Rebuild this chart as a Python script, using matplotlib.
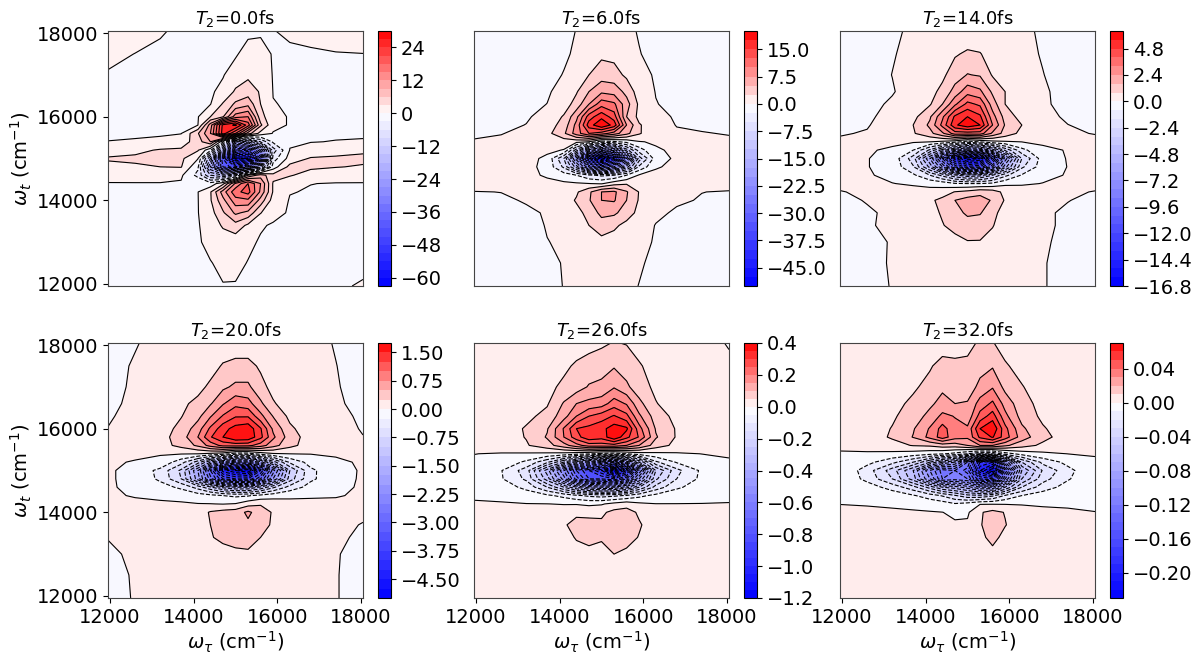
import matplotlib
matplotlib.use("Agg")
import matplotlib.pyplot as plt
import numpy as np
from matplotlib.colors import TwoSlopeNorm

# grid (cm^-1), denser around the centre
w_tau = [11950, 12600, 13200, 13700, 14100, 14400, 14700, 15000, 15300, 15600, 15900, 16300, 16800, 17400, 18050]
w_t = [18050, 17500, 17000, 16600, 16300, 16000, 15800, 15600, 15400, 15200, 15000,
       14800, 14600, 14400, 14200, 14000, 13700, 13400, 13000, 12500, 11950]

times = [0.0, 6.0, 14.0, 20.0, 26.0, 32.0]
steps = [3, 2.5, 0.8, 0.25, 0.05, 0.01]
level_low = [-21, -20, -21, -20, -24, -23]
level_high = [10, 8, 8, 7, 8, 7]
cbar_ticks = [
    [-60, -48, -36, -24, -12, 0, 12, 24],
    [-45, -37.5, -30, -22.5, -15, -7.5, 0, 7.5, 15],
    [-16.8, -14.4, -12, -9.6, -7.2, -4.8, -2.4, 0, 2.4, 4.8],
    [-4.5, -3.75, -3, -2.25, -1.5, -0.75, 0, 0.75, 1.5],
    [-1.2, -1.0, -0.8, -0.6, -0.4, -0.2, 0, 0.2, 0.4],
    [-0.2, -0.16, -0.12, -0.08, -0.04, 0, 0.04],
]
cbar_fmt = ["%.0f", "%.1f", "%.1f", "%.2f", "%.1f", "%.2f"]

# spectra in units of one contour step
z0 = [
    [.35, .25, .05, -.1, -.15, -.2, -.2, -.2, -.2, -.2, -.02, .1, .2, .3, .4],
    [.15, -.01, -.1, -.15, -.2, -.2, -.2, -.1, .35, .5, -.1, -.1, -.08, -.03, -.01],
    [-.05, -.15, -.2, -.2, -.2, -.15, -.05, .4, .8, .6, -.05, -.1, -.1, -.1, -.1],
    [-.1, -.2, -.2, -.2, -.2, -.1, .2, 1.15, 1.5, .9, -.02, -.1, -.1, -.1, -.1],
    [-.1, -.15, -.2, -.2, -.1, -.03, 1.1, 2.2, 2.7, 1, .02, -.05, -.1, -.1, -.1],
    [-.1, -.15, -.15, -.15, -.05, 1, 1.9, 4.5, 5, 1.4, .2, -.05, -.1, -.1, -.1],
    [-.1, -.1, -.1, -.08, -.02, 3.5, 8.3, 9.2, 6.5, 2.2, .2, -.05, -.1, -.1, -.1],
    [-.08, -.08, -.08, -.03, 1.9, 4, 8.5, 6, 2.5, .6, -.05, -.08, -.08, -.08, -.08],
    [.01, .05, .15, .5, 1.5, 3, -.8, -7, -6, -3, -.8, -.1, -.02, .02, .05],
    [.55, .75, 1.1, 1.15, 1.1, -.8, -6, -13, -14, -9, -2.5, .03, .25, .5, .8],
    [1.1, 1.2, 1.3, 1.2, .05, -5, -14, -20.5, -20, -13, -1.5, .4, 1.1, 1.2, 1.25],
    [.75, .85, 1, 1.05, -.8, -7, -13, -15, -12, -5.5, -.5, 1.3, 1.2, 1.05, .9],
    [.35, .4, .4, .15, -1.3, -4, -5, -3.5, 1, 2.5, 1.3, 1.1, .55, .3, .25],
    [-.05, -.05, -.05, -.1, -.15, -.6, .7, 4.2, 6, 4, .9, .25, .01, -.03, -.03],
    [-.1, -.1, -.1, -.1, -.02, .9, 3.5, 5.7, 6.4, 3.8, .9, .03, -.05, -.05, -.05],
    [-.1, -.1, -.1, -.1, -.03, .9, 2.7, 4.6, 4.8, 2.6, .55, -.05, -.08, -.08, -.08],
    [-.1, -.1, -.1, -.1, -.03, .6, 1.85, 3.2, 2.7, 1.05, .15, -.05, -.1, -.1, -.1],
    [-.1, -.1, -.1, -.1, -.05, .3, 1.15, 1.6, .8, .05, -.05, -.1, -.1, -.1, -.1],
    [-.1, -.1, -.1, -.1, -.05, .12, .35, .4, .1, -.05, -.1, -.1, -.1, -.1, -.1],
    [-.1, -.1, -.1, -.1, -.08, -.02, .1, .12, -.02, -.08, -.1, -.1, -.1, -.1, -.05],
    [-.1, -.1, -.1, -.1, -.1, -.08, -.02, -.03, -.05, -.1, -.1, -.1, -.1, -.03, .02],
]
z1 = [
    [-.6, -.6, -.5, -.4, -.2, .02, .2, .3, .3, .15, -.05, -.2, -.4, -.5, -.6],
    [-.6, -.6, -.5, -.3, -.1, .1, .5, .8, .7, .3, .03, -.2, -.4, -.5, -.6],
    [-.6, -.6, -.4, -.2, .03, .4, 1, 1.5, 1.4, .8, .15, -.05, -.3, -.5, -.6],
    [-.6, -.5, -.3, -.1, .3, .9, 2, 2.8, 2.6, 1.7, .5, -.03, -.3, -.4, -.5],
    [-.5, -.4, -.2, .01, .5, 1.4, 3, 4.6, 4.2, 2.4, .8, .03, -.2, -.3, -.4],
    [-.4, -.3, -.1, .3, 1.1, 2.7, 5.5, 6.7, 5.5, 2, .7, .25, -.1, -.2, -.3],
    [-.3, -.2, .02, .5, 1.4, 3.3, 6.5, 7.9, 6.6, 3, 1.1, .35, -.03, -.1, -.2],
    [-.1, -.03, .2, .7, 1.8, 3.5, 5, 4.5, 3.5, 2.3, 1.1, .3, .1, .03, -.03],
    [.05, .15, .25, .4, .5, .3, -.02, -1.5, -1.2, -.7, -.05, .1, .2, .15, .1],
    [.3, .4, .4, .2, -.05, -3.5, -7.5, -9.5, -8.5, -4.5, -1.5, -.1, .15, .2, .2],
    [.4, .4, .3, -.2, -3, -8.5, -16, -20, -17, -10, -3.5, -.5, .2, .3, .3],
    [.4, .4, .3, -.3, -2.2, -5.5, -10, -12, -10, -5.5, -1.8, -.08, .2, .3, .3],
    [.4, .4, .3, -.15, -.5, -1, -1.8, -2.2, -2, -1, .1, .2, .3, .3, .3],
    [.4, .4, .4, .3, .15, .1, .02, -.1, .6, .9, .6, .3, .3, .3, .3],
    [-.03, .01, .15, .3, .5, .85, 1.8, 3, 3.2, 2.1, .95, .4, .15, .01, -.05],
    [-.2, -.1, .05, .2, .5, 1.1, 1.9, 3, 3.1, 2, .9, .3, .1, -.05, -.2],
    [-.4, -.3, -.1, .05, .3, .7, 1.3, 2.3, 2.2, 1.5, .7, .15, -.1, -.3, -.4],
    [-.5, -.4, -.3, .05, .25, .5, 1, 1.5, 1.2, .7, .35, -.03, -.3, -.4, -.5],
    [-.5, -.5, -.3, -.02, .1, .25, .5, .7, .55, .35, .15, -.05, -.3, -.4, -.5],
    [-.5, -.5, -.4, -.2, .05, .15, .25, .3, .3, .2, .05, -.1, -.3, -.4, -.5],
    [-.5, -.5, -.4, -.2, .02, .1, .15, .2, .2, .1, -.01, -.1, -.3, -.4, -.5],
]
z2 = [
    [-.5, -.4, -.1, .1, .2, .3, .3, .35, .35, .3, .25, .15, -.1, -.3, -.5],
    [-.5, -.4, -.05, .2, .35, .55, .9, 1.15, 1.05, .6, .45, .2, -.05, -.3, -.5],
    [-.4, -.3, .01, .25, .5, .8, 1.5, 2.05, 1.9, .9, .5, .2, .02, -.3, -.4],
    [-.4, -.3, -.05, .3, .7, 1.25, 2.4, 3.6, 3.2, 1.8, 1, .3, .1, -.25, -.35],
    [-.3, -.2, .1, .4, .9, 2, 3.8, 5.3, 4.8, 2.5, 1, .35, .1, -.2, -.3],
    [-.25, -.15, .3, .7, 1.85, 3.8, 6.2, 7, 6.2, 3.4, 1.6, .6, .2, -.1, -.2],
    [-.2, -.05, .35, 1, 2.2, 4.3, 6.8, 7.7, 7, 4, 1.9, 1, .3, .01, -.15],
    [-.05, .05, .4, .9, 1.7, 2.8, 4.5, 4.5, 4.5, 2.8, 1.6, .7, .3, .1, -.03],
    [.1, .2, .2, .1, .02, -.2, -.6, -1.5, -.9, -.3, -.1, .02, .15, .2, .2],
    [.2, .1, -.15, -1, -3.2, -5.4, -7.8, -9.2, -8.8, -6.6, -3.8, -1.3, -.2, .05, .2],
    [.2, .03, -.3, -2.5, -7, -12, -17.6, -20.8, -20, -15, -8.6, -3, -.5, .05, .2],
    [.2, .03, -.3, -1.9, -5.3, -9, -13.2, -15.7, -15, -11, -6.4, -2.2, -.45, .02, .2],
    [.2, .08, -.2, -.8, -2, -3.3, -4.8, -5.7, -5.4, -4, -2.3, -.9, -.2, .05, .2],
    [.15, .15, .02, -.1, -.25, -.4, -.9, -1, -1, -.8, -.2, -.1, .02, .1, .2],
    [-.03, .1, .25, .3, .3, .45, 1.05, 1.3, 1.7, 1.5, .7, .4, .3, .1, -.03],
    [-.2, .05, .25, .4, .8, 1.3, 2, 2.4, 2.4, 1.9, .9, .4, .2, .02, -.15],
    [-.35, -.1, .15, .3, .7, 1.1, 1.6, 2.2, 2.1, 1.2, .7, .3, .1, -.1, -.3],
    [-.4, -.05, .1, .25, .55, .95, 1.3, 1.5, 1.4, 1.05, .55, .25, .1, -.1, -.3],
    [-.4, -.2, .05, .15, .3, .45, .7, .95, .95, .7, .4, .2, .05, -.1, -.3],
    [-.4, -.1, .03, .1, .2, .3, .35, .4, .4, .3, .2, .1, .03, -.15, -.3],
    [-.4, -.2, .03, .1, .15, .2, .25, .25, .25, .2, .15, .1, .02, -.1, -.3],
]
z3 = [
    [-.1, -.02, .1, .2, .25, .3, .35, .4, .4, .35, .3, .25, .15, -.03, -.2],
    [-.1, .03, .15, .25, .35, .6, 1.1, 1.3, 1.3, .85, .5, .3, .15, .01, -.2],
    [-.1, .05, .2, .35, .7, 1.2, 1.8, 2.2, 2.2, 1.3, .7, .35, .15, .03, -.15],
    [-.1, .1, .3, .8, 1.25, 1.9, 2.9, 3.7, 3.4, 2.2, 1.1, .5, .25, .05, -.1],
    [-.05, .15, .4, .95, 1.7, 2.9, 4.1, 4.9, 4.9, 3.3, 1.95, .75, .3, .1, -.06],
    [.01, .2, .5, 1.3, 2.5, 4.2, 5.6, 6.4, 6.7, 5.1, 2.8, 1.2, .4, .15, -.03],
    [.05, .25, .6, 1.5, 3, 4.9, 6, 6.9, 6.8, 5.3, 3.2, 1.5, .5, .2, .01],
    [.1, .25, .6, 1.3, 2.2, 3.4, 4.3, 4.4, 4.3, 3.5, 2.4, 1.3, .5, .2, .1],
    [.15, .15, .05, .05, .01, -.2, -.5, -1.5, -1.5, -.6, -.1, .01, .03, .1, .15],
    [.1, -.05, -.2, -1.6, -3.5, -6, -8.5, -10, -10, -7.5, -4.5, -1.8, -.6, -.15, .1],
    [.1, -.25, -1.3, -3.2, -7, -12, -17.5, -19, -20, -15, -9.5, -4, -1.2, -.35, .1],
    [.1, -.25, -1.2, -3, -6.5, -10.5, -14, -15, -15, -12, -8, -3.5, -1.2, -.3, .1],
    [.1, -.2, -.6, -1.2, -2.4, -3.8, -5.3, -6, -6, -4.8, -3.2, -1.6, -.6, -.2, .1],
    [.1, -.05, -.2, -.3, -.5, -.7, -1, -1.2, -1.1, -.7, -.4, -.2, -.1, -.05, .1],
    [.1, .15, .15, .1, .03, .02, -.03, .05, .6, .9, .6, .3, .2, .15, .1],
    [.1, .15, .2, .3, .5, 1.1, 1.35, 1.5, 2.2, 1.5, .9, .4, .25, .15, .08],
    [.05, .1, .2, .3, .6, 1, 1.35, 1.6, 1.8, 1.4, .85, .4, .2, .1, -.02],
    [.01, .1, .15, .25, .5, .95, 1.15, 1.25, 1.25, 1, .6, .3, .15, .05, -.05],
    [-.05, .05, .1, .15, .3, .5, .75, .85, .9, .7, .4, .2, .1, .02, -.1],
    [-.1, .03, .08, .1, .15, .2, .3, .35, .35, .3, .2, .1, .06, .02, -.15],
    [-.15, .03, .05, .08, .1, .15, .2, .2, .2, .15, .1, .08, .05, .02, -.15],
]
z4 = [
    [.2, .25, .3, .35, .4, .5, .7, .85, 1.05, .95, .6, .4, .25, .1, -.02],
    [.2, .3, .4, .6, .8, 1.15, 1.35, 1.5, 1.9, 1.5, 1.1, .6, .35, .15, .05],
    [.2, .3, .5, .75, 1.2, 1.5, 2.1, 2.3, 2.9, 2.2, 1.4, .8, .4, .2, .1],
    [.2, .3, .6, .9, 2.1, 3, 3.3, 3.5, 4.5, 3.9, 2.3, 1.05, .5, .25, .1],
    [.25, .35, .75, 1.3, 2.6, 4, 5, 5.5, 6.1, 5.3, 3.2, 1.5, .7, .3, .15],
    [.3, .45, 1.1, 1.9, 4.1, 6, 6.3, 6.7, 7.5, 7.2, 4.4, 1.9, .9, .4, .2],
    [.3, .5, 1.05, 2.1, 4, 5.6, 6.7, 6.4, 7.8, 6.3, 4.9, 2.1, .9, .4, .2],
    [.3, .45, .9, 1.6, 2.6, 3.6, 4.5, 4.5, 4.6, 4, 3, 1.5, .7, .35, .2],
    [.01, -.05, -.1, -.2, -.35, -.6, -.9, -1.3, -1.5, -1, -.5, -.25, -.1, .01, .1],
    [-.1, -.3, -1.2, -2.8, -5, -7.5, -9.5, -12, -14, -10, -6, -2.2, -.9, -.3, -.1],
    [-.15, -.95, -2.5, -6.5, -11, -15, -17, -19, -24, -19, -12, -5, -2.3, -.8, -.15],
    [-.15, -.9, -2.2, -5.5, -9.5, -13.5, -16, -16, -17, -14, -9, -4.2, -2, -.75, -.15],
    [-.1, -.4, -1.3, -3, -5, -7, -8.5, -9, -9, -7.5, -5, -2.6, -1.2, -.4, -.1],
    [-.1, -.15, -.4, -.8, -1.3, -1.8, -2.2, -2.4, -2.2, -1.9, -1.3, -.7, -.3, -.15, -.05],
    [.08, .05, .02, .01, -.04, -.06, -.2, -.1, .3, .6, .2, .02, .01, .01, .01],
    [.2, .2, .25, .3, .45, .8, .75, .8, 1.3, 1.4, .85, .5, .3, .2, .2],
    [.2, .2, .25, .4, .9, 1.3, 1.3, 1.2, 1.5, 1.6, 1.1, .5, .3, .2, .2],
    [.2, .2, .2, .3, .55, 1.1, 1.25, 1.1, 1.3, 1.35, .95, .45, .3, .2, .2],
    [.2, .2, .2, .25, .35, .55, .75, .7, 1, .8, .55, .35, .25, .2, .2],
    [.2, .2, .2, .25, .25, .3, .35, .35, .45, .4, .3, .25, .2, .2, .2],
    [.2, .2, .2, .2, .2, .2, .25, .25, .3, .25, .2, .2, .2, .2, .2],
]
z5 = [
    [.2, .2, .25, .3, .4, .5, .6, .8, 1.1, 1.05, .65, .45, .3, .2, .2],
    [.2, .25, .35, .5, .9, 1.35, 1.2, 1.15, 1.6, 1.9, 1.1, .7, .4, .25, .2],
    [.2, .25, .45, .85, 1.3, 1.8, 1.6, 1.4, 2.3, 2.9, 1.7, 1.05, .55, .3, .2],
    [.2, .3, .7, 1.2, 1.8, 2.35, 2, 2.1, 3.4, 4.2, 2.6, 1.4, .65, .3, .2],
    [.25, .35, .85, 1.5, 2.3, 3.25, 2.95, 2.3, 4.4, 5.5, 3.3, 1.6, .8, .35, .2],
    [.25, .45, 1.05, 1.9, 3.1, 4.4, 3.3, 3.2, 6, 6.9, 4.3, 2.2, 1.1, .45, .25],
    [.3, .6, 1.1, 2.05, 3.3, 4.5, 3.4, 3.2, 5.2, 6.1, 4.5, 2.5, 1.3, .5, .3],
    [.1, .3, .7, 1.05, 1.15, 1.5, 1.5, 2, 3, 3, 2.2, 1.4, .8, .35, .2],
    [-.05, -.1, -.25, -.45, -.7, -.9, -1.3, -2, -3, -3, -1.5, -.6, -.2, .01, .05],
    [-.1, -.7, -1.7, -3, -5, -7, -8, -12, -18, -19, -10, -4, -1.7, -.7, -.1],
    [-.1, -1.5, -3.5, -6, -10, -12.5, -12, -13.5, -20, -22.9, -14, -6, -2.9, -1.3, -.15],
    [-.1, -1.3, -3, -5.5, -9, -12, -11.5, -12, -16, -17, -11, -5, -2.4, -1.1, -.15],
    [-.1, -.5, -1.4, -2.6, -4.4, -6, -6.5, -7.5, -9, -9, -6, -3, -1.5, -.6, -.1],
    [-.08, -.15, -.4, -.9, -1.5, -2.1, -2.9, -3.7, -3.8, -3.2, -1.9, -1, -.5, -.2, -.08],
    [-.01, -.05, -.1, -.25, -.35, -.5, -.9, -.6, -.05, -.05, -.05, -.05, -.1, -.1, -.1],
    [.15, .15, .1, .1, .05, .01, -.15, -.15, .9, 1.3, .95, .35, .2, .1, .01],
    [.2, .2, .2, .2, .15, .12, .1, .15, .9, 1.6, 1.05, .4, .2, .2, .2],
    [.2, .2, .2, .2, .2, .2, .2, .3, .75, 1.3, .7, .35, .25, .2, .2],
    [.2, .2, .2, .2, .2, .2, .2, .3, .5, .7, .45, .3, .2, .2, .2],
    [.2, .2, .2, .2, .2, .2, .2, .25, .3, .35, .3, .25, .2, .2, .2],
    [.2, .2, .2, .2, .2, .2, .2, .2, .25, .25, .2, .2, .2, .2, .2],
]
spectra = [z0, z1, z2, z3, z4, z5]

W = 1199
H = 660
ax_left = [108, 474, 840]
ax_top = [31, 343]
ax_size = 255
cb_gap = 15
cb_width = 13

plt.rcParams["font.family"] = "DejaVu Sans"
plt.rcParams["font.size"] = 14

fig = plt.figure(figsize=(W / 100, H / 100), dpi=100)

for i in range(6):
    row = i // 3
    col = i % 3
    x0 = ax_left[col]
    y0 = ax_top[row]
    ax = fig.add_axes([x0 / W, 1 - (y0 + ax_size) / H, ax_size / W, ax_size / H])
    cax = fig.add_axes([(x0 + ax_size + cb_gap) / W, 1 - (y0 + ax_size) / H, cb_width / W, ax_size / H])

    z = np.array(spectra[i]) * steps[i]
    levels = np.arange(level_low[i], level_high[i] + 1) * steps[i]
    norm = TwoSlopeNorm(vmin=levels[0], vcenter=0, vmax=levels[-1])

    cf = ax.contourf(w_tau, w_t, z, levels=levels, cmap="bwr", norm=norm, extend="neither")
    ax.contour(w_tau, w_t, z, levels=levels, colors="k", linewidths=0.8)

    ax.set_xlim(11950, 18050)
    ax.set_ylim(11950, 18050)
    ax.set_title(r"$T_2$=%.1ffs" % times[i], fontsize=13, pad=5)
    for s in ax.spines.values():
        s.set_color("#444444")

    if row == 1:
        ax.set_xticks([12000, 14000, 16000, 18000])
        ax.set_xlabel(r"$\omega_\tau$ (cm$^{-1}$)", labelpad=2)
    else:
        ax.set_xticks([])
    if col == 0:
        ax.set_yticks([12000, 14000, 16000, 18000])
        ax.set_ylabel(r"$\omega_t$ (cm$^{-1}$)", labelpad=2)
    else:
        ax.set_yticks([])

    cb = fig.colorbar(cf, cax=cax, ticks=cbar_ticks[i])
    cb.ax.set_yticklabels([(cbar_fmt[i] % t).replace("-", "\u2212") for t in cbar_ticks[i]])
    cb.outline.set_linewidth(0.8)

fig.savefig("out.png", dpi=100)
